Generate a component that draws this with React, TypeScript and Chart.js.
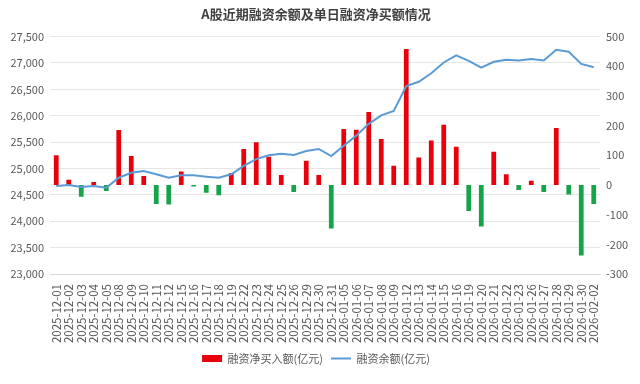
import React, { useEffect, useRef } from "react";
import { Chart, registerables } from "chart.js";

Chart.register(...registerables);

const TITLE = "A股近期融资余额及单日融资净买额情况";
const dates = [
  "2025-12-01", "2025-12-02", "2025-12-03", "2025-12-04", "2025-12-05",
  "2025-12-08", "2025-12-09", "2025-12-10", "2025-12-11", "2025-12-12",
  "2025-12-15", "2025-12-16", "2025-12-17", "2025-12-18", "2025-12-19",
  "2025-12-22", "2025-12-23", "2025-12-24", "2025-12-25", "2025-12-26",
  "2025-12-29", "2025-12-30", "2025-12-31",
  "2026-01-05", "2026-01-06", "2026-01-07", "2026-01-08", "2026-01-09",
  "2026-01-12", "2026-01-13", "2026-01-14", "2026-01-15", "2026-01-16",
  "2026-01-19", "2026-01-20", "2026-01-21", "2026-01-22", "2026-01-23",
  "2026-01-26", "2026-01-27", "2026-01-28", "2026-01-29", "2026-01-30",
  "2026-02-02",
];
const netBuy = [
  100, 18, -40, 10, -20,
  185, 98, 30, -64, -66,
  45, -5, -26, -35, 40,
  121, 144, 95, 34, -24,
  82, 34, -147,
  189, 186, 246, 155, 65,
  458, 93, 150, 203, 129,
  -88, -140, 112, 36, -17,
  14, -24, 192, -32, -238,
  -64,
];
const balance = [
  24666, 24685, 24647, 24666, 24634,
  24825, 24920, 24953, 24890, 24825,
  24870, 24870, 24845, 24825, 24890,
  25050, 25177, 25250, 25280, 25258,
  25330, 25370, 25235,
  25432, 25623, 25847, 26007, 26089,
  26562, 26644, 26805, 27009, 27143,
  27040, 26912, 27022, 27060, 27047,
  27073, 27047, 27251, 27213, 26983,
  26920,
];
const NET_LABEL = "融资净买入额(亿元)";
const BAL_LABEL = "融资余额(亿元)";

const RED = "#e8000b";
const GREEN = "#16a34a";
const BLUE = "#5b9bd5";
const TXT = "#595959";
const FONT = '"Noto Sans CJK SC", "Open Sans", sans-serif';

export default function App() {
  const ref = useRef<HTMLCanvasElement | null>(null);
  useEffect(() => {
    document.body.style.margin = "0";
    const ctx = ref.current!.getContext("2d")!;
    const chart = new Chart(ctx, {
      data: {
        labels: dates,
        datasets: [
          {
            type: "line",
            label: BAL_LABEL,
            data: balance,
            yAxisID: "y",
            borderColor: BLUE,
            backgroundColor: BLUE,
            borderWidth: 2,
            pointRadius: 0,
            tension: 0,
            pointStyle: "line",
            order: 0,
          },
          {
            type: "bar",
            label: NET_LABEL,
            data: netBuy,
            yAxisID: "y1",
            backgroundColor: netBuy.map((v) => (v >= 0 ? RED : GREEN)),
            barPercentage: 0.38,
            categoryPercentage: 1,
            pointStyle: "rect",
            order: 1,
          },
        ],
      } as any,
      options: {
        animation: false,
        responsive: false,
        maintainAspectRatio: false,
        layout: { padding: { left: 0, right: 8, top: 0, bottom: 10 } },
        plugins: {
          title: {
            display: true,
            text: TITLE,
            color: "#404040",
            font: { family: FONT, size: 13, weight: "bold" },
            padding: { top: 6, bottom: 15 },
          },
          legend: {
            position: "bottom",
            labels: {
              color: TXT,
              font: { family: FONT, size: 11 },
              usePointStyle: true,
              pointStyleWidth: 20,
              boxHeight: 7,
              padding: 8,
              generateLabels: () => [
                {
                  text: NET_LABEL,
                  fillStyle: RED,
                  strokeStyle: RED,
                  lineWidth: 0,
                  pointStyle: "rect",
                  datasetIndex: 1,
                  hidden: false,
                  fontColor: TXT,
                },
                {
                  text: BAL_LABEL,
                  fillStyle: BLUE,
                  strokeStyle: BLUE,
                  lineWidth: 2,
                  pointStyle: "line",
                  datasetIndex: 0,
                  hidden: false,
                  fontColor: TXT,
                },
              ],
            },
          },
          tooltip: { enabled: false },
        },
        scales: {
          x: {
            grid: { display: false },
            border: { display: true, color: "#d9d9d9" },
            afterFit: (s: any) => {
              s.height = 71;
            },
            ticks: {
              autoSkip: false,
              minRotation: 90,
              maxRotation: 90,
              color: TXT,
              font: { family: FONT, size: 11.5 },
              padding: 2,
            },
          },
          y: {
            position: "left",
            min: 23000,
            max: 27500,
            afterFit: (s: any) => {
              s.width = 50;
            },
            ticks: {
              stepSize: 500,
              color: TXT,
              font: { family: FONT, size: 11 },
              padding: 6,
              callback: (v: any) => Number(v).toLocaleString("en-US"),
            },
            grid: { color: "#e6e6e6", drawTicks: false },
            border: { display: false },
          },
          y1: {
            position: "right",
            min: -300,
            max: 500,
            afterFit: (s: any) => {
              s.width = 32;
            },
            ticks: {
              stepSize: 100,
              color: TXT,
              font: { family: FONT, size: 11 },
              padding: 6,
            },
            grid: { display: false, drawTicks: false },
            border: { display: false },
          },
        },
      },
    } as any);
    return () => chart.destroy();
  }, []);
  return (
    <div style={{ position: "absolute", left: 0, top: 0, width: 640, height: 384, background: "#fff" }}>
      <canvas ref={ref} width={640} height={384} style={{ width: 640, height: 384 }} />
    </div>
  );
}
